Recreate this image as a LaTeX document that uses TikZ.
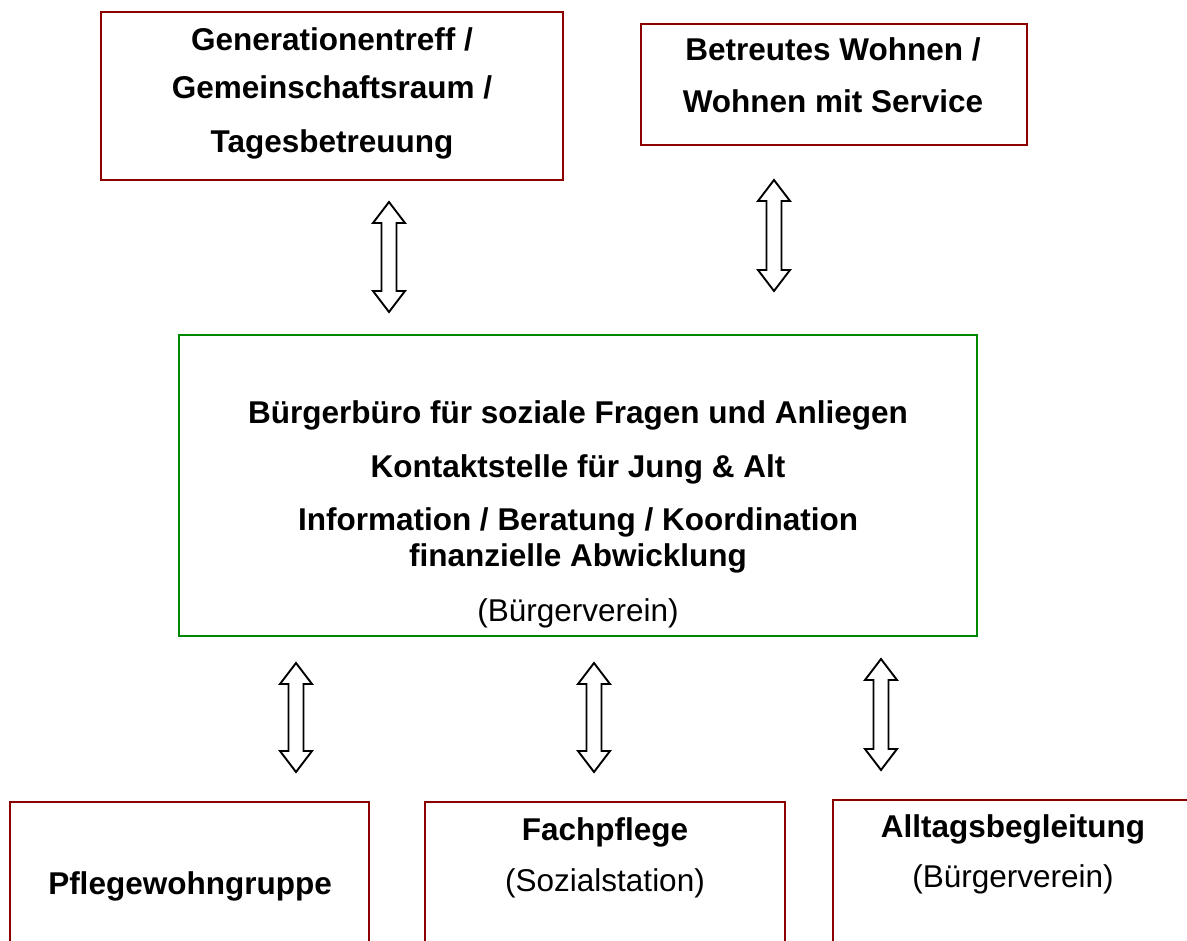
\documentclass[tikz,border=0pt]{standalone}
\usepackage{fontspec}
\setmainfont{Liberation Sans}
\usetikzlibrary{calc}
\definecolor{boxred}{RGB}{140,0,0}
\definecolor{boxgreen}{RGB}{0,135,0}
\tikzset{
  redbox/.style={draw=boxred, line width=2.8pt, rectangle, inner sep=0pt},
  greenbox/.style={draw=boxgreen, line width=2.8pt, rectangle, inner sep=0pt},
  lbl/.style={anchor=base, inner sep=0pt, font=\fontsize{31.5}{36}\selectfont\bfseries},
  lblr/.style={anchor=base, inner sep=0pt, font=\fontsize{31.5}{36}\selectfont},
  blockarrow/.style={draw=black, fill=white, line width=1.9pt, line join=miter}
}
\newcommand\dblarrow[2]{%
  \draw[blockarrow] let \p1=(#1), \p2=(#2) in
   (\x1,\y1) -- (\x1+16pt,\y1-21pt) -- (\x1+7.5pt,\y1-21pt) -- (\x1+7.5pt,\y2+21pt)
   -- (\x1+16pt,\y2+21pt) -- (\x1,\y2) -- (\x1-16pt,\y2+21pt) -- (\x1-7.5pt,\y2+21pt)
   -- (\x1-7.5pt,\y1-21pt) -- (\x1-16pt,\y1-21pt) -- cycle;}
\begin{document}
\begin{tikzpicture}[x=1pt,y=-1pt]
\useasboundingbox (0,0) rectangle (1187,941);
\clip (0,0) rectangle (1187,941);
% boxes
\node[redbox, minimum width=462pt, minimum height=168pt] (gen) at (332,96) {};
\node[redbox, minimum width=386pt, minimum height=121pt] (betr) at (834,84.5) {};
\node[greenbox, minimum width=798pt, minimum height=301pt] (buero) at (578,485.5) {};
\node[redbox, minimum width=359pt, minimum height=158pt] (pflege) at (189.5,881) {};
\node[redbox, minimum width=360pt, minimum height=158pt] (fach) at (605,881) {};
\node[redbox, minimum width=367pt, minimum height=160pt] (alltag) at (1016.5,880) {};
% texts
\node[lbl] (g1) at (332,51) {Generationentreff /};
\node[lbl] (g2) at (332,99) {Gemeinschaftsraum /};
\node[lbl] (g3) at (332,153) {Tagesbetreuung};
\node[lbl] (b1) at (833,61) {Betreutes Wohnen /};
\node[lbl] (b2) at (833,113) {Wohnen mit Service};
\node[lbl] (c1) at (578,424) {Bürgerbüro für soziale Fragen und Anliegen};
\node[lbl] (c2) at (578,477) {Kontaktstelle für Jung \& Alt};
\node[lbl] (c3) at (578,530) {Information / Beratung / Koordination};
\node[lbl] (c4) at (578,566) {finanzielle Abwicklung};
\node[lblr] (c5) at (578,621) {(Bürgerverein)};
\node[lbl] (p1) at (190,894) {Pflegewohngruppe};
\node[lbl] (f1) at (605,840) {Fachpflege};
\node[lblr] (f2) at (605,891) {(Sozialstation)};
\node[lbl] (a1) at (1013,837) {Alltagsbegleitung};
\node[lblr] (a2) at (1013,887) {(Bürgerverein)};
% arrow end points
\coordinate (ar1t) at (389,202); \coordinate (ar1b) at (389,312);
\coordinate (ar2t) at (774,180); \coordinate (ar2b) at (774,291);
\coordinate (ar3t) at (296,663); \coordinate (ar3b) at (296,772);
\coordinate (ar4t) at (594,663); \coordinate (ar4b) at (594,772);
\coordinate (ar5t) at (881,659); \coordinate (ar5b) at (881,770);
\dblarrow{ar1t}{ar1b}
\dblarrow{ar2t}{ar2b}
\dblarrow{ar3t}{ar3b}
\dblarrow{ar4t}{ar4b}
\dblarrow{ar5t}{ar5b}
\end{tikzpicture}
\end{document}
